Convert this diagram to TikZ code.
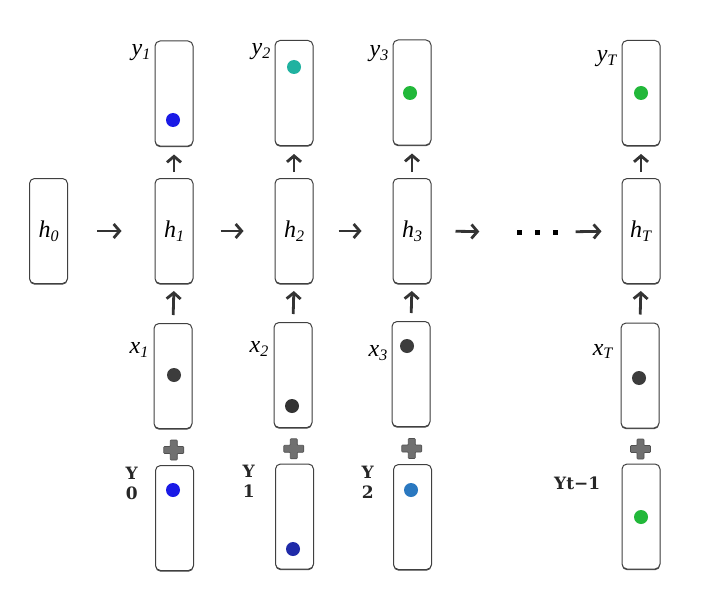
\documentclass[tikz,border=0pt]{standalone}
\usepackage{fontspec}
\setmainfont{Liberation Serif}
\newfontfamily\lblfont{DejaVu Serif}
\usetikzlibrary{arrows.meta,calc,shadows}
\definecolor{dotblue}{RGB}{26,26,230}
\definecolor{dotteal}{RGB}{32,178,160}
\definecolor{dotgreen}{RGB}{34,184,58}
\definecolor{dotgray}{RGB}{60,60,60}
\definecolor{dotdblue}{RGB}{31,42,168}
\definecolor{dotsteel}{RGB}{42,120,192}
\definecolor{plusgray}{RGB}{112,112,112}
\definecolor{plusedge}{RGB}{80,80,80}
\newcommand\mylab[2]{\textit{#1}\raisebox{-0.35ex}{\fontsize{16}{16}\selectfont\textit{#2}}}
\newcommand\drawplus[1]{\path[plusstyle] ($(#1)+(-3.5,-10)$) -- ++(7,0) -- ++(0,6.5) -- ++(6.5,0) -- ++(0,7) -- ++(-6.5,0) -- ++(0,6.5) -- ++(-7,0) -- ++(0,-6.5) -- ++(-6.5,0) -- ++(0,-7) -- ++(6.5,0) -- cycle;}
\begin{document}
\begin{tikzpicture}[x=1pt,y=-1pt,
  cell/.style={draw=black!75, line width=1pt, rounded corners=5pt, fill=white,
    minimum width=38pt, minimum height=105pt, inner sep=0pt,
    font=\fontsize{24}{24}\selectfont,
    drop shadow={shadow xshift=0pt, shadow yshift=-1.2pt, fill=black, opacity=0.7}},
  dotn/.style={circle, minimum size=14pt, inner sep=0pt},
  arr/.style={draw=black!80, line width=2.8pt,
    -{Straight Barb[length=6pt,width=14pt]}},
  lbl/.style={inner sep=0pt, anchor=east, font=\fontsize{24}{24}\selectfont},
  ylbl/.style={inner sep=0pt, anchor=east, align=center,
    font=\lblfont\bfseries\fontsize{17}{20}\selectfont, text=black!85},
  plusstyle/.style={fill=plusgray, draw=plusedge, line width=0.6pt, rounded corners=0.8pt}
]
\useasboundingbox (0,0) rectangle (706,591);

% hidden row
\node[cell] (h0) at (48.5,231) {\mylab{h}{0}};
\node[cell] (h1) at (174,231) {\mylab{h}{1}};
\node[cell] (h2) at (294,231) {\mylab{h}{2}};
\node[cell] (h3) at (412,231) {\mylab{h}{3}};
\node[cell] (hT) at (641,231) {\mylab{h}{T}};
\node[inner sep=0pt] (dots) at (537,232) {\rule{5pt}{5pt}\hspace{13pt}\rule{5pt}{5pt}\hspace{13pt}\rule{5pt}{5pt}};

% output row
\node[cell] (y1) at (174,93.5) {};
\node[cell] (y2) at (294,93) {};
\node[cell] (y3) at (412,92.5) {};
\node[cell] (yT) at (641,93) {};

% input row
\node[cell] (x1) at (173,376) {};
\node[cell] (x2) at (293,375) {};
\node[cell] (x3) at (411,374) {};
\node[cell] (xT) at (640,375.5) {};

% previous-output row
\node[cell] (Y0) at (174.5,518) {};
\node[cell] (Y1) at (294.5,516.5) {};
\node[cell] (Y2) at (412.5,517) {};
\node[cell] (Yt) at (641,516.5) {};

% dots inside cells
\node[dotn, fill=dotblue] (d-y1) at (173,120) {};
\node[dotn, fill=dotteal] (d-y2) at (294,67) {};
\node[dotn, fill=dotgreen] (d-y3) at (410,93) {};
\node[dotn, fill=dotgreen] (d-yT) at (641,93) {};
\node[dotn, fill=dotgray] (d-x1) at (174,375) {};
\node[dotn, fill=dotgray!85!black] (d-x2) at (292,406) {};
\node[dotn, fill=dotgray] (d-x3) at (407,346) {};
\node[dotn, fill=dotgray] (d-xT) at (639,378) {};
\node[dotn, fill=dotblue] (d-Y0) at (173,490) {};
\node[dotn, fill=dotdblue] (d-Y1) at (293,549) {};
\node[dotn, fill=dotsteel] (d-Y2) at (411,490) {};
\node[dotn, fill=dotgreen] (d-Yt) at (641,517) {};

% labels
\node[lbl] (l-y1) at ($(y1.north west)+(-4,12)$) {\mylab{y}{1}};
\node[lbl] (l-y2) at ($(y2.north west)+(-4,12)$) {\mylab{y}{2}};
\node[lbl] (l-y3) at ($(y3.north west)+(-4,14)$) {\mylab{y}{3}};
\node[lbl] (l-yT) at ($(yT.north west)+(-4,19)$) {\mylab{y}{T}};
\node[lbl] (l-x1) at ($(x1.north west)+(-5,27)$) {\mylab{x}{1}};
\node[lbl] (l-x2) at ($(x2.north west)+(-5,27)$) {\mylab{x}{2}};
\node[lbl] (l-x3) at ($(x3.north west)+(-4,32)$) {\mylab{x}{3}};
\node[lbl] (l-xT) at ($(xT.north west)+(-7,29)$) {\mylab{x}{T}};
\node[ylbl] (l-Y0) at ($(Y0.north west)+(-17,18)$) {Y\\0};
\node[ylbl] (l-Y1) at ($(Y1.north west)+(-20,18)$) {Y\\1};
\node[ylbl] (l-Y2) at ($(Y2.north west)+(-19,18)$) {Y\\2};
\node[ylbl] (l-Yt) at ($(Yt.north west)+(-21,20)$) {Yt\char"2212 1};

% horizontal arrows
\draw[arr, shorten <=29pt, shorten >=33pt] (h0.east) -- (h1.west);
\draw[arr, shorten <=27pt, shorten >=31pt] (h1.east) -- (h2.west);
\draw[arr, shorten <=25pt, shorten >=31pt] (h2.east) -- (h3.west);
\draw[arr, shorten <=24pt, shorten >=37pt] (h3.east) -- (dots.west);
\draw[arr, shorten <=18pt, shorten >=20pt] (dots.east) -- (hT.west);

% vertical arrows
\foreach \c in {1,2,3,T}{
  \draw[arr, shorten <=6pt, shorten >=8pt] (h\c.north) -- (y\c.south);
  \draw[arr, shorten <=8pt, shorten >=7pt] (x\c.north) -- (h\c.south);
}

% plus signs
\coordinate (p1) at ($(x1.south)!0.5!(Y0.north)+(0,3)$);
\coordinate (p2) at ($(x2.south)!0.5!(Y1.north)+(0,3)$);
\coordinate (p3) at ($(x3.south)!0.5!(Y2.north)+(0,3)$);
\coordinate (pT) at ($(xT.south)!0.5!(Yt.north)+(0,3)$);
\drawplus{p1}
\drawplus{p2}
\drawplus{p3}
\drawplus{pT}
\end{tikzpicture}
\end{document}
